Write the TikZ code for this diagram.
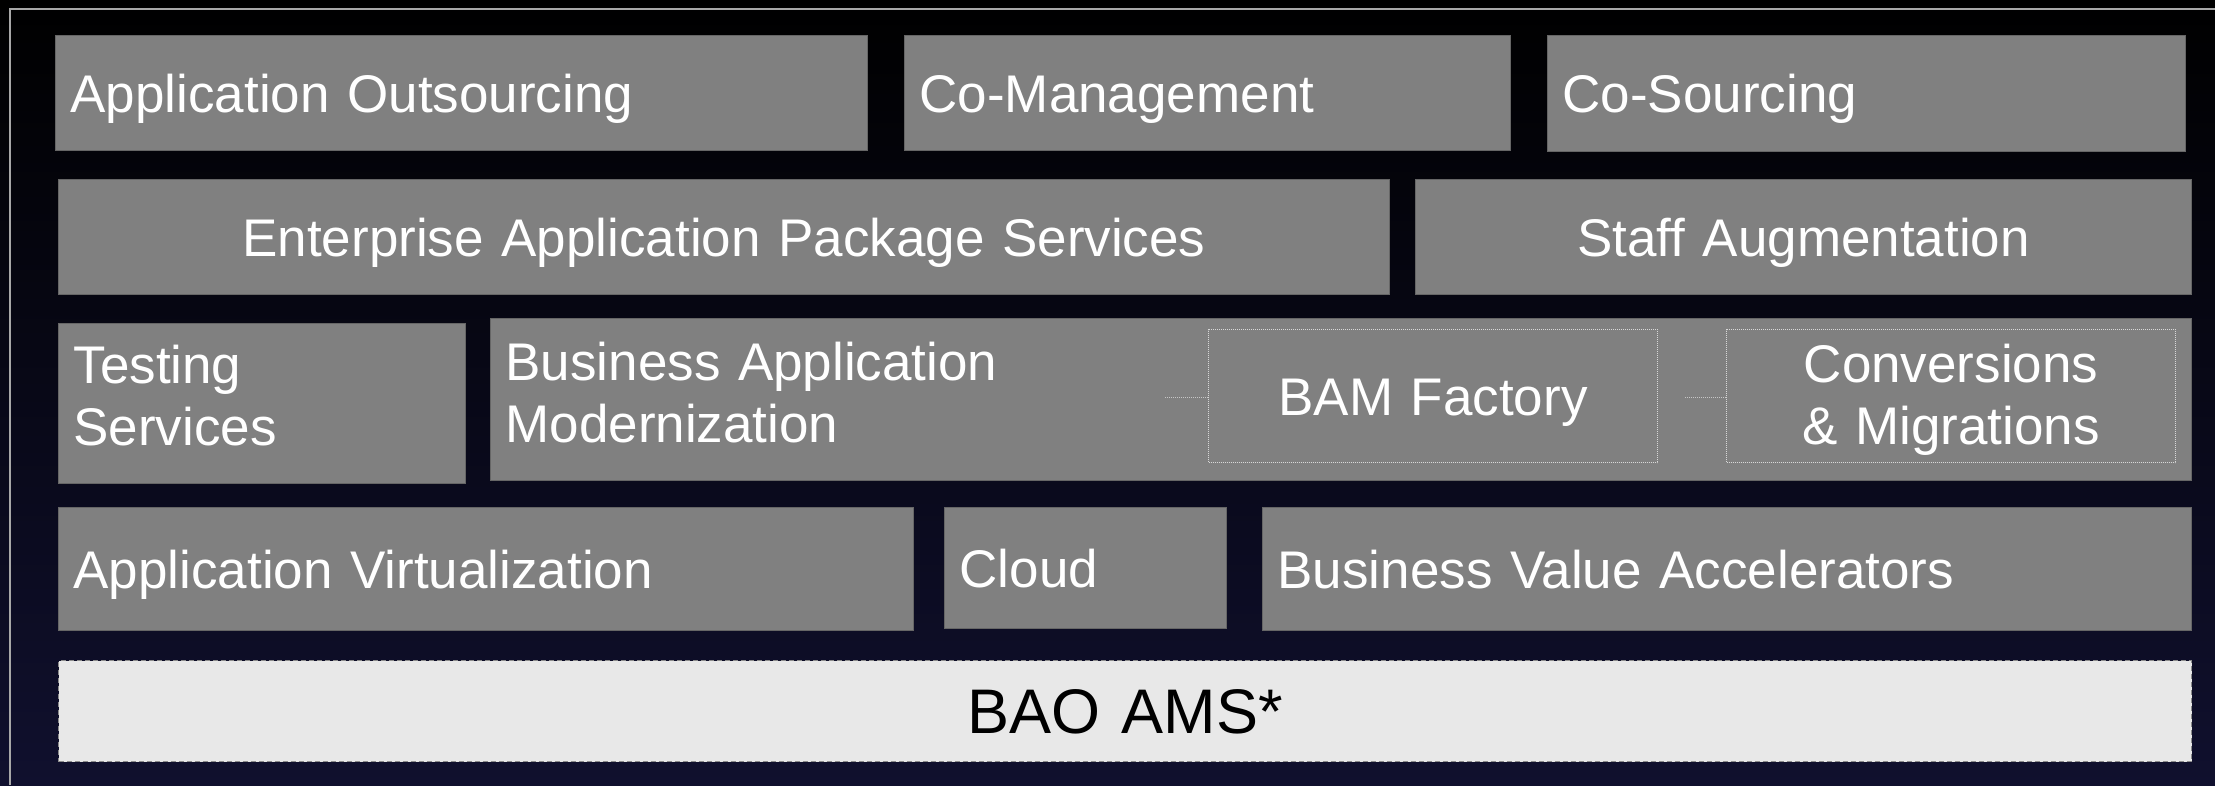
\documentclass[tikz,border=0pt]{standalone}
\usepackage{fontspec}
\setmainfont{Liberation Sans}
\definecolor{boxgray}{HTML}{808080}
\definecolor{boxedge}{HTML}{666666}
\definecolor{framegray}{HTML}{A8A8A8}
\definecolor{baofill}{HTML}{E8E8E8}
\definecolor{baoedge}{HTML}{8C8C8C}
\definecolor{navy}{RGB}{16,16,46}
\definecolor{dotline}{HTML}{D8D8D8}
\tikzset{
  gbox/.style={draw=boxedge, fill=boxgray, line width=1pt, inner xsep=15pt, inner ysep=0pt,
    text=white, font=\fontsize{53}{62}\selectfont, anchor=north west,
    text height=38pt, text depth=0pt, align=left},
  dbox/.style={draw=dotline, line width=1pt, dash pattern=on 1pt off 1pt, inner xsep=15pt, inner ysep=0pt,
    text=white, font=\fontsize{53}{62}\selectfont, anchor=north west,
    text height=38pt, text depth=0pt, align=center},
  baobox/.style={draw=baoedge, fill=baofill, line width=1.2pt, dash pattern=on 5pt off 3pt,
    inner xsep=15pt, inner ysep=0pt, text=black, font=\fontsize{63}{70}\selectfont,
    anchor=north west, text height=45pt, text depth=0pt, align=center},
  conn/.style={draw=dotline!80!gray, line width=1pt, dash pattern=on 1pt off 1pt},
}
\begin{document}
\begin{tikzpicture}[x=1pt,y=-1pt]
\useasboundingbox (0,0) rectangle (2215,785);
\shade[top color=black, middle color=black, bottom color=navy] (0,0) rectangle (2215,785);
\draw[framegray, line width=1.5pt] (10,785) -- (10,9) -- (2215,9);
% row 1
\node[gbox, minimum width=812pt, text width=782pt, minimum height=115pt] (ao) at (55,35) {Application Outsourcing};
\node[gbox, minimum width=606pt, text width=576pt, minimum height=115pt] (cm) at (904,35) {Co-Management};
\node[gbox, minimum width=638pt, text width=608pt, minimum height=116pt] (cs) at (1547,35) {Co-Sourcing};
% row 2
\node[gbox, align=center, minimum width=1331pt, text width=1301pt, minimum height=115pt] (eaps) at (58,179) {Enterprise Application Package Services};
\node[gbox, align=center, minimum width=776pt, text width=746pt, minimum height=115pt] (sa) at (1415,179) {Staff Augmentation};
% row 3
\node[gbox, minimum width=407pt, text width=377pt, minimum height=160pt, text depth=78pt] (ts) at (58,323) {Testing\\Services};
\node[gbox, minimum width=1701pt, text width=1671pt, minimum height=162pt, text depth=76pt] (bam) at (490,318) {Business Application\\Modernization};
\node[dbox, minimum width=449pt, text width=419pt, minimum height=133pt] (bf) at (1208,329) {BAM Factory};
\node[dbox, minimum width=449pt, text width=419pt, minimum height=133pt, text depth=65pt] (cmg) at (1726,329) {Conversions\\\& Migrations};
\coordinate (c1) at (1165,397);
\coordinate (c2) at (1685,397);
\draw[conn] (c1) -- (c1 -| bf.west);
\draw[conn] (c2) -- (c2 -| cmg.west);
% row 4
\node[gbox, minimum width=855pt, text width=825pt, minimum height=123pt] (av) at (58,507) {Application Virtualization};
\node[gbox, minimum width=282pt, text width=252pt, minimum height=121pt] (cl) at (944,507) {Cloud};
\node[gbox, minimum width=929pt, text width=899pt, minimum height=123pt] (bva) at (1262,507) {Business Value Accelerators};
% row 5
\node[baobox, minimum width=2133pt, text width=2103pt, minimum height=101pt] (bao) at (58,660) {BAO AMS*};
\end{tikzpicture}
\end{document}
